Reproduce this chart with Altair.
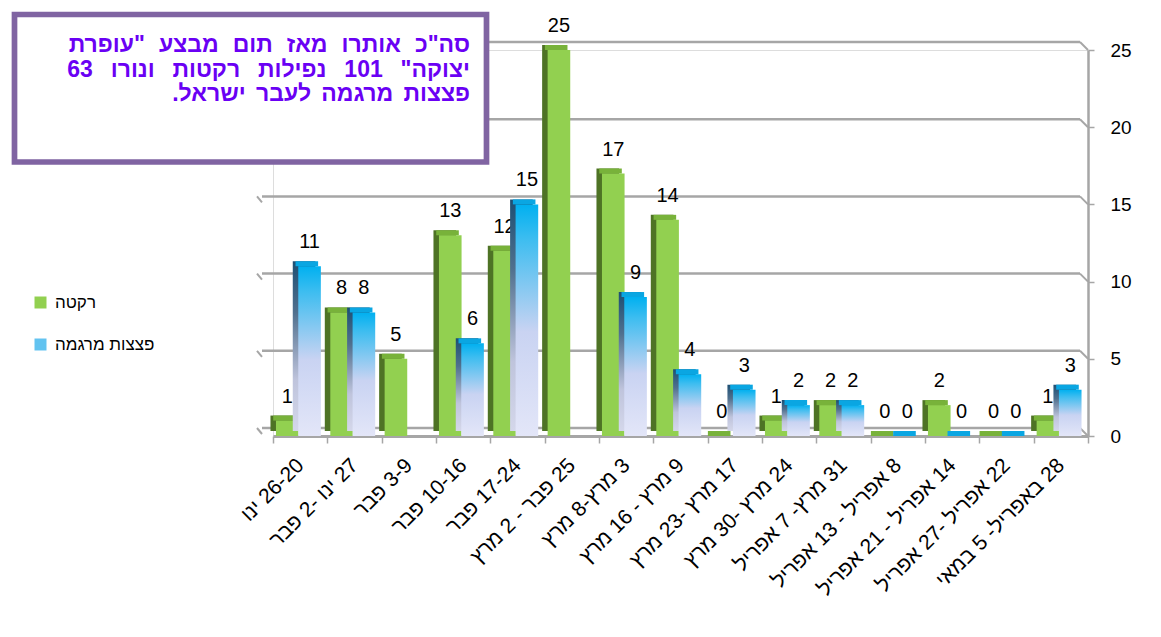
import altair as alt
import pandas as pd

# ---------------- data ----------------
weeks = [
    "26-20 ינו",
    "27 ינו -2 פבר",
    "3-9 פבר",
    "10-16 פבר",
    "17-24 פבר",
    "25 פבר - 2 מרץ",
    "3 מרץ-8 מרץ",
    "9 מרץ - 16 מרץ",
    "17 מרץ -23 מרץ",
    "24 מרץ -30 מרץ",
    "31 מרץ- 7 אפריל",
    "8 אפריל - 13 אפריל",
    "14 אפריל - 21 אפריל",
    "22 אפריל -27 אפריל",
    "28 באפריל- 5 במאי",
]
rockets = [1, 8, 5, 13, 12, 25, 17, 14, 0, 1, 2, 0, 2, 0, 1]
mortars = [11, 8, None, 6, 15, None, 9, 4, 3, 2, 2, 0, 0, 0, 3]
series_names = ["רקטה", "פצצות מרגמה"]
y_ticks = [0, 5, 10, 15, 20, 25]
title_words = [
    ['סה"כ', "אותרו", "מאז", "תום", "מבצע", '"עופרת'],
    ['יצוקה"', "101", "נפילות", "רקטות", "ונורו", "63"],
    ["פצצות", "מרגמה", "לעבר", "ישראל."],
]

RLE, PDF = "\u202b", "\u202c"

rows = []
for i, w in enumerate(weeks):
    rows.append({"week": w, "series": series_names[0], "value": rockets[i]})
    rows.append({"week": w, "series": series_names[1], "value": mortars[i]})
df = pd.DataFrame(rows)

# ---------------- layout / style ----------------
W, H = 815, 386
PL, PT = 265, 42
FONT = "Liberation Sans, Arial, Open Sans, DejaVu Sans"
BW = 22.6
G_OFF, B_OFF = -12.9, 9.4
SIDE_DX, SIDE_DY = -5.5, -5

GREEN = "#92D050"
GREEN_SIDE = "#4E7325"
GREEN_TOP = "#78B23A"
GRID = "#A6A6A6"

blue_front = alt.Gradient(
    gradient="linear", x1=0, x2=0, y1=0, y2=1,
    stops=[alt.GradientStop(color="#00B0F0", offset=0),
           alt.GradientStop(color="#3DBDF0", offset=0.15),
           alt.GradientStop(color="#C9D3F2", offset=0.55),
           alt.GradientStop(color="#E3E6F8", offset=1)])
blue_side = alt.Gradient(
    gradient="linear", x1=0, x2=0, y1=0, y2=1,
    stops=[alt.GradientStop(color="#1D4F73", offset=0),
           alt.GradientStop(color="#50708E", offset=0.3),
           alt.GradientStop(color="#BFC4DC", offset=0.7),
           alt.GradientStop(color="#D4D7EA", offset=1)])
BLUE_TOP = "#0AA6E2"

x_enc = alt.X(
    "week:N", sort=weeks,
    scale=alt.Scale(paddingInner=0, paddingOuter=0),
    axis=alt.Axis(
        title=None, labelAngle=-45, labelAlign="right", labelBaseline="middle",
        labelFontSize=21, labelFont=FONT, labelColor="#000000", labelPadding=19,
        labelLimit=0, labelExpr=f"'{RLE}' + datum.label + '{PDF}'",
        tickBand="extent", tickSize=7, tickColor=GRID, tickWidth=1.5,
        domainColor=GRID, domainWidth=3, grid=False),
)
y_scale = alt.Scale(domain=[0, 25], nice=False, zero=True)
y_enc = alt.Y(
    "value:Q", scale=y_scale,
    axis=alt.Axis(
        orient="right", title=None, values=y_ticks, grid=False,
        labelFontSize=19, labelFont=FONT, labelColor="#000000", labelPadding=16,
        tickSize=6, tickColor=GRID, tickWidth=1.5, domainColor=GRID, domainWidth=2.5),
)

base = alt.Chart(df)
green = base.transform_filter(alt.datum.series == series_names[0])
blue = base.transform_filter(alt.datum.series == series_names[1]).transform_filter(
    "isValid(datum.value)")

# grid on the back wall
grid_df = pd.DataFrame({"v": y_ticks})
grid = alt.Chart(grid_df).mark_rule(color=GRID, strokeWidth=2.5, yOffset=-8).encode(
    y=alt.Y("v:Q", scale=y_scale), x=alt.value(-11), x2=alt.value(W - 8))
grid_conn = alt.Chart(grid_df).mark_rule(color=GRID, strokeWidth=2, yOffset=-8, y2Offset=0).encode(
    y=alt.Y("v:Q", scale=y_scale), y2="v:Q", x=alt.value(W - 8), x2=alt.value(W))
grid_left = alt.Chart(grid_df).mark_rule(color=GRID, strokeWidth=2, yOffset=-8, y2Offset=-2).encode(
    y=alt.Y("v:Q", scale=y_scale), y2="v:Q", x=alt.value(-16), x2=alt.value(-11))


def bar_layers(src, off, front, side, top):
    s = src.mark_bar(color=side, width=BW, xOffset=off + SIDE_DX, yOffset=SIDE_DY,
                     y2Offset=SIDE_DY).encode(x=x_enc, y=y_enc)
    t = src.mark_bar(color=top, width=BW, xOffset=off + SIDE_DX / 2, yOffset=SIDE_DY,
                     y2Offset=0).encode(x=x_enc, y=y_enc, y2="value:Q")
    f = src.mark_bar(color=front, width=BW, xOffset=off).encode(x=x_enc, y=y_enc)
    lab = src.mark_text(xOffset=off, dy=-18, baseline="alphabetic", fontSize=20,
                        font=FONT, color="#000000").encode(x=x_enc, y=y_enc, text="value:Q")
    return [s, t, f, lab]


legend_layer = base.mark_square(opacity=0).encode(
    x=x_enc, y=y_enc,
    color=alt.Color(
        "series:N",
        scale=alt.Scale(domain=series_names, range=[GREEN, "#62C3F0"]),
        legend=alt.Legend(
            title=None, orient="none", legendX=32 - 273, legendY=294 - 50,
            symbolType="square", symbolSize=144, symbolOpacity=1, symbolStrokeWidth=0,
            labelFontSize=17, labelFont=FONT, labelColor="#000000", labelOffset=6,
            rowPadding=24)),
)

box = alt.Chart(alt.Data(values=[{}])).mark_rect(
    fill="white", stroke="#8064A2", strokeWidth=5.7).encode(
    x=alt.value(14.5 - 273), x2=alt.value(486.5 - 273),
    y=alt.value(14.5 - 50), y2=alt.value(162 - 50))

# justified (widened) word gaps for the first two lines, near-plain for the last one
gaps = [" \u2004", " \u2002", " \u2006"]
box_lines = [RLE + gaps[i].join(ws) + PDF for i, ws in enumerate(title_words)]
box_text = alt.Chart(alt.Data(values=[{}])).mark_text(
    align="right", baseline="alphabetic", lineBreak="\n", lineHeight=24.5,
    fontSize=23, fontWeight="bold", font=FONT, color="#6A00F4").encode(
    x=alt.value(470 - 273), y=alt.value(52 - 50),
    text=alt.value("\n".join(box_lines)))

layers = [grid, grid_conn, grid_left]
layers += bar_layers(green, G_OFF, GREEN, GREEN_SIDE, GREEN_TOP)
layers += bar_layers(blue, B_OFF, blue_front, blue_side, BLUE_TOP)
layers += [legend_layer, box, box_text]

chart = alt.layer(*layers).properties(
    width=W, height=H,
    autosize=alt.AutoSizeParams(type="none"),
    padding={"left": PL, "top": PT, "right": 60, "bottom": 180},
).configure_view(stroke=None).configure(background="white")

chart.save("out.html", embed_options={"renderer": "svg", "actions": False})
